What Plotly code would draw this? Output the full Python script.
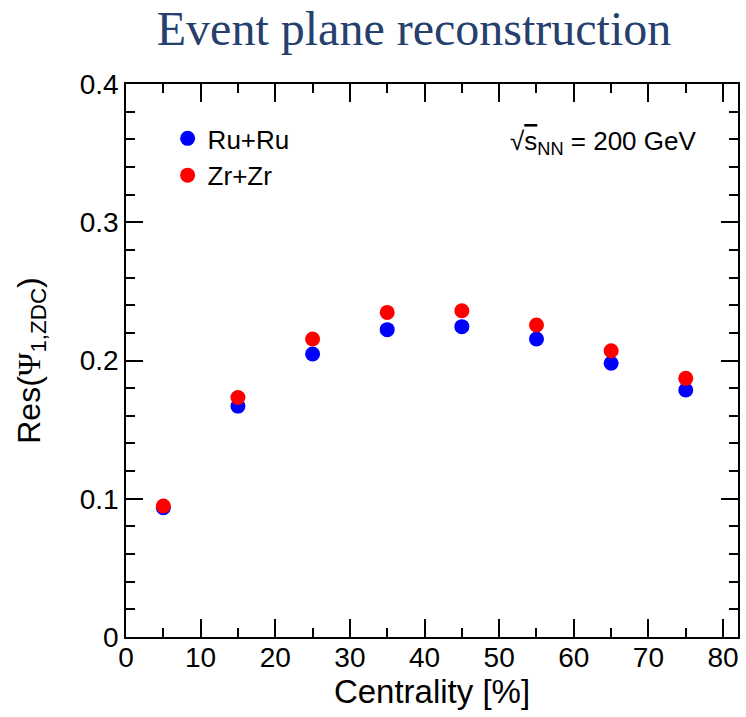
import plotly.graph_objects as go

centrality = [5, 15, 25, 35, 45, 55, 65, 75]
res_ruru = [0.0935, 0.167, 0.2047, 0.2223, 0.2245, 0.2155, 0.198, 0.1787]
res_zrzr = [0.0948, 0.1732, 0.2155, 0.2348, 0.236, 0.2257, 0.2071, 0.1871]

x_ticks = [0, 10, 20, 30, 40, 50, 60, 70, 80]
y_ticks = [0, 0.1, 0.2, 0.3, 0.4]
y_ticklabels = ["0", "0.1", "0.2", "0.3", "0.4"]

FONT = "Liberation Sans, Arial, Helvetica, sans-serif"
SERIF = "Liberation Serif, Times New Roman, serif"

fig = go.Figure()
fig.add_trace(go.Scatter(
    x=centrality, y=res_ruru, mode="markers", name="Ru+Ru",
    marker=dict(color="#0000ff", size=15, line=dict(width=0)),
    legendgroup="a",
))
fig.add_trace(go.Scatter(
    x=centrality, y=res_zrzr, mode="markers", name="Zr+Zr",
    marker=dict(color="#ff0000", size=15, line=dict(width=0)),
    legendgroup="b",
))

axis_common = dict(
    showline=True, linecolor="black", linewidth=1.5, mirror="ticks",
    ticks="inside", tickcolor="black", tickwidth=1.5,
    showgrid=False, zeroline=False,
    tickfont=dict(family=FONT, size=28, color="black"),
)

fig.update_xaxes(
    range=[0, 82], tickvals=x_ticks, ticklen=18,
    minor=dict(dtick=5, ticklen=9, ticks="inside", tickcolor="black", tickwidth=1.5, showgrid=False),
    title=dict(text="Centrality [%]", font=dict(family=FONT, size=33, color="black"), standoff=6),
    ticklabelstandoff=-5,
    **axis_common,
)
fig.update_yaxes(
    range=[0, 0.4], tickvals=y_ticks, ticktext=y_ticklabels, ticklen=17,
    minor=dict(dtick=0.02, ticklen=9, ticks="inside", tickcolor="black", tickwidth=1.5, showgrid=False),
    title=dict(text=f"Res(<span style='font-family:{SERIF}'>Ψ</span><sub>1,ZDC</sub>)",
               font=dict(family=FONT, size=32, color="black"), standoff=30),
    **axis_common,
)

fig.add_annotation(
    xref="paper", yref="paper", x=0.935, y=0.895, xanchor="right", yanchor="middle",
    text="√<span style='text-decoration:overline'>s</span><sub>NN</sub> = 200 GeV", showarrow=False,
    font=dict(family=FONT, size=26, color="black"),
)

fig.update_layout(
    width=746, height=717,
    margin=dict(l=126, r=6, t=84, b=80),
    plot_bgcolor="white", paper_bgcolor="white",
    title=dict(
        text="Event plane reconstruction",
        font=dict(family=SERIF, size=48, color="#26406e"),
        x=0.555, xanchor="center", xref="container",
        y=0.961, yanchor="middle", yref="container",
    ),
    showlegend=True,
    legend=dict(
        x=0.068, y=0.944, xanchor="left", yanchor="top",
        font=dict(family=FONT, size=26, color="black"),
        bgcolor="rgba(0,0,0,0)", tracegroupgap=0,
    ),
)

fig.write_html("out.html")
